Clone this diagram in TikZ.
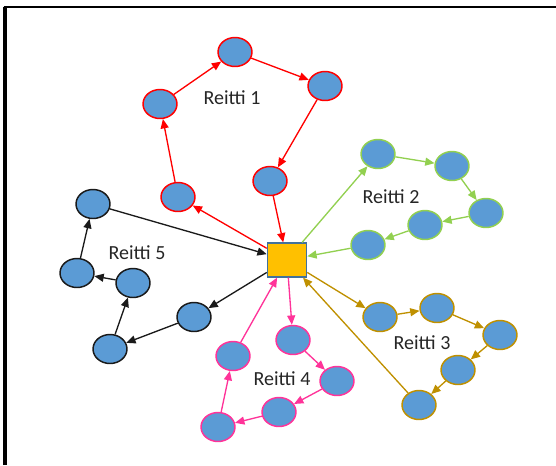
\documentclass[tikz,border=0pt]{standalone}
\usepackage{fontspec}
\setmainfont{Carlito}
\usetikzlibrary{shapes.geometric,arrows.meta}
\definecolor{stopblue}{HTML}{5B9BD5}
\definecolor{depotorange}{HTML}{FFC000}
\definecolor{depotedge}{HTML}{41719C}
\definecolor{routered}{HTML}{FF0000}
\definecolor{routegreen}{HTML}{92D050}
\definecolor{routegold}{HTML}{BF9000}
\definecolor{routepink}{HTML}{FF3399}
\definecolor{routeblack}{HTML}{1A1A1A}

\begin{document}
\begin{tikzpicture}[x=0.75pt,y=-0.75pt,
    pysakki/.style={ellipse, draw, line width=1.1pt, fill=stopblue,
        minimum width=25.5pt, minimum height=21.75pt, inner sep=0pt},
    varasto/.style={rectangle, draw=depotedge, line width=0.9pt, fill=depotorange,
        minimum width=29.5pt, minimum height=25.5pt, inner sep=0pt},
    reitti/.style={line width=1pt, -{Triangle[length=7pt,width=6pt]}},
    nimi/.style={font=\fontsize{15}{18}\selectfont, text=black!85}]
    \useasboundingbox (0,0) rectangle (556,465);
    % frame
    \draw[line width=3pt] (5,465) -- (5,7);
    \draw[line width=2pt] (3.5,7) -- (556,7);

    % depot
    \node[varasto] (depot) at (287,260) {};

    % Reitti 1
    \node[pysakki, draw=routered] (r1) at (178,197) {};
    \node[pysakki, draw=routered] (r2) at (160,104) {};
    \node[pysakki, draw=routered] (r3) at (235,52) {};
    \node[pysakki, draw=routered] (r4) at (325,86) {};
    \node[pysakki, draw=routered] (r5) at (270,181) {};
    \node[nimi] (n1) at (232,98) {Reitti 1};

    % Reitti 2
    \node[pysakki, draw=routegreen] (g1) at (378,154) {};
    \node[pysakki, draw=routegreen] (g2) at (452,166) {};
    \node[pysakki, draw=routegreen] (g3) at (486,213) {};
    \node[pysakki, draw=routegreen] (g4) at (425,225) {};
    \node[pysakki, draw=routegreen] (g5) at (368,245) {};
    \node[nimi] (n2) at (391,197) {Reitti 2};

    % Reitti 3
    \node[pysakki, draw=routegold] (y1) at (380,317) {};
    \node[pysakki, draw=routegold] (y2) at (437,308) {};
    \node[pysakki, draw=routegold] (y3) at (500,335) {};
    \node[pysakki, draw=routegold] (y4) at (458,370) {};
    \node[pysakki, draw=routegold] (y5) at (419,405) {};
    \node[nimi] (n3) at (422,343) {Reitti 3};

    % Reitti 4
    \node[pysakki, draw=routepink] (p1) at (293,340) {};
    \node[pysakki, draw=routepink] (p2) at (337,381) {};
    \node[pysakki, draw=routepink] (p3) at (279,412) {};
    \node[pysakki, draw=routepink] (p4) at (218,427) {};
    \node[pysakki, draw=routepink] (p5) at (233,356) {};
    \node[nimi] (n4) at (282,379) {Reitti 4};

    % Reitti 5
    \node[pysakki, draw=routeblack] (b1) at (194,317) {};
    \node[pysakki, draw=routeblack] (b2) at (110,349) {};
    \node[pysakki, draw=routeblack] (b3) at (133,283) {};
    \node[pysakki, draw=routeblack] (b4) at (77,273) {};
    \node[pysakki, draw=routeblack] (b5) at (93,204) {};
    \node[nimi] (n5) at (137,253) {Reitti 5};

    % routes
    \draw[reitti, routered] (depot) -- (r1);
    \draw[reitti, routered] (r1) -- (r2);
    \draw[reitti, routered] (r2) -- (r3);
    \draw[reitti, routered] (r3) -- (r4);
    \draw[reitti, routered] (r4) -- (r5);
    \draw[reitti, routered] (r5) -- (depot);

    \draw[reitti, routegreen] (depot) -- (g1);
    \draw[reitti, routegreen] (g1) -- (g2);
    \draw[reitti, routegreen] (g2) -- (g3);
    \draw[reitti, routegreen] (g3) -- (g4);
    \draw[reitti, routegreen] (g4) -- (g5);
    \draw[reitti, routegreen] (g5) -- (depot);

    \draw[reitti, routegold] (depot) -- (y1);
    \draw[reitti, routegold] (y1) -- (y2);
    \draw[reitti, routegold] (y2) -- (y3);
    \draw[reitti, routegold] (y3) -- (y4);
    \draw[reitti, routegold] (y4) -- (y5);
    \draw[reitti, routegold] (y5) -- (depot);

    \draw[reitti, routepink] (depot) -- (p1);
    \draw[reitti, routepink] (p1) -- (p2);
    \draw[reitti, routepink] (p2) -- (p3);
    \draw[reitti, routepink] (p3) -- (p4);
    \draw[reitti, routepink] (p4) -- (p5);
    \draw[reitti, routepink] (p5) -- (depot);

    \draw[reitti, routeblack] (depot) -- (b1);
    \draw[reitti, routeblack] (b1) -- (b2);
    \draw[reitti, routeblack] (b2) -- (b3);
    \draw[reitti, routeblack] (b3) -- (b4);
    \draw[reitti, routeblack] (b4) -- (b5);
    \draw[reitti, routeblack] (b5) -- (depot);
\end{tikzpicture}
\end{document}
